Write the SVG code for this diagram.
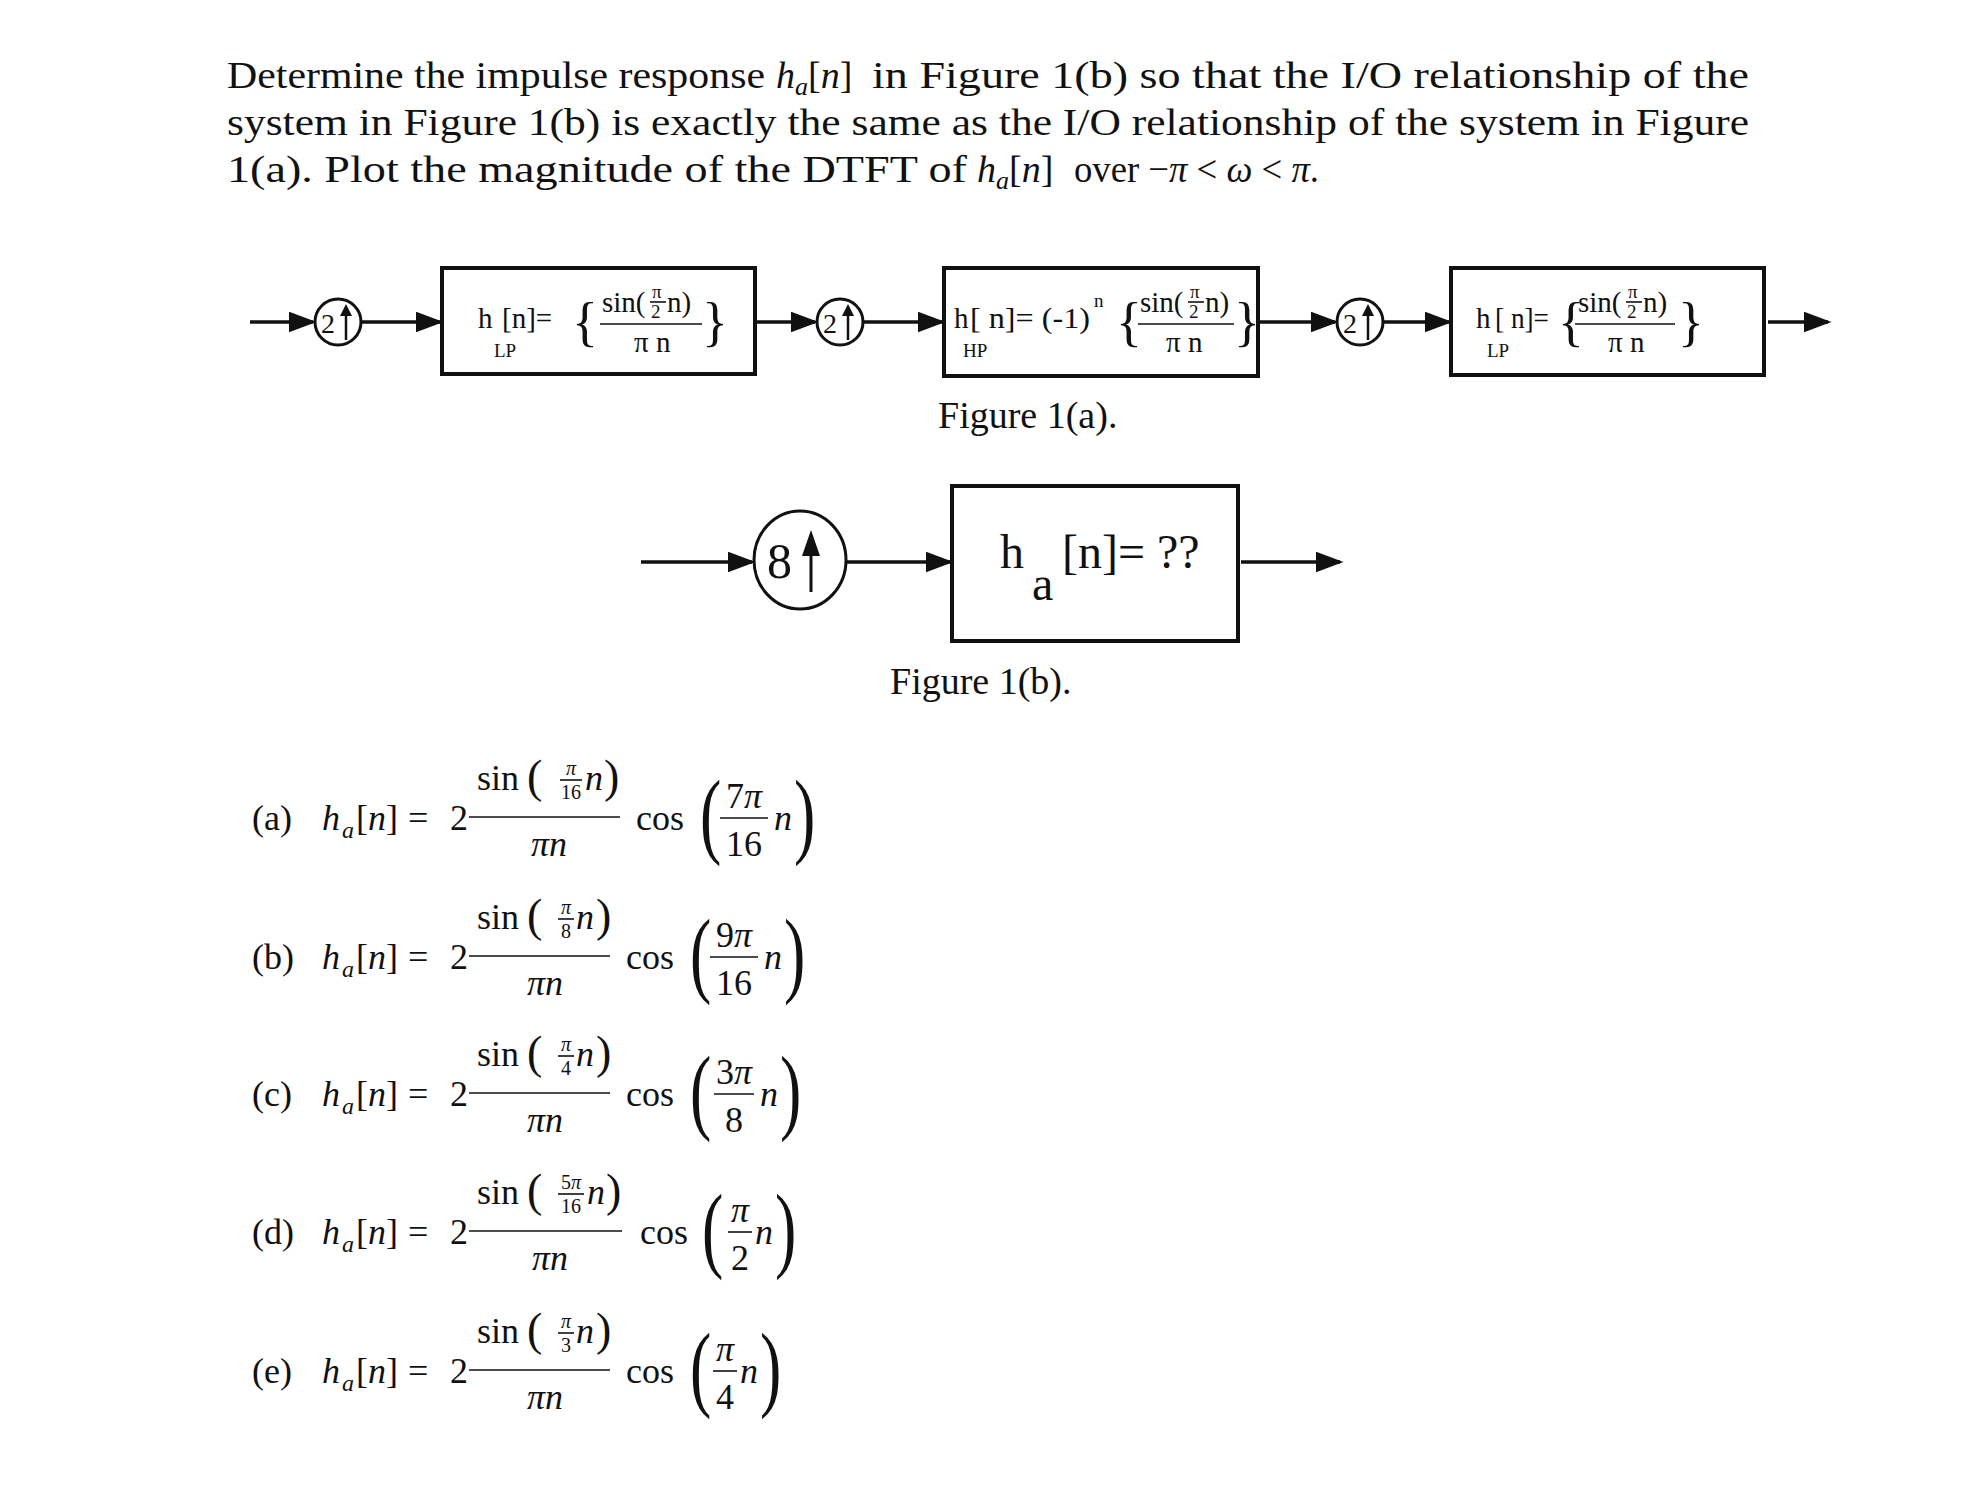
<svg xmlns="http://www.w3.org/2000/svg" width="1969" height="1490" viewBox="0 0 1969 1490">
<style>
text{font-family:"Liberation Serif","Times New Roman",serif;fill:#111}
.t{font-size:38px}
.i{font-style:italic}
.m{font-size:36px}
.s{font-size:24px}
.x{font-size:20px}
.bx{fill:#fff;stroke:#111;stroke-width:4}
.c{fill:#fff;stroke:#111;stroke-width:3}
.ln{stroke:#111;stroke-width:3.5;fill:none}
.fb{stroke:#111;stroke-width:1.6}
.bt{font-size:29px}
.bs{font-size:19px}
.br{font-size:54px}
.bp{font-size:64px}
.sp{font-size:46px}
</style>
<defs>
<marker id="ah2" markerWidth="8" markerHeight="6" refX="7" refY="3" orient="auto" markerUnits="strokeWidth"><path d="M0,0 L8,3 L0,6 Z" fill="#111"/></marker>
</defs>

<g id="title" class="t">
<text x="227" y="88" textLength="538" lengthAdjust="spacingAndGlyphs">Determine the impulse response</text>
<text x="776" y="88"><tspan class="i">h</tspan><tspan class="i" font-size="26" dy="7">a</tspan><tspan dy="-7">[</tspan><tspan class="i">n</tspan>]</text>
<text x="872" y="88" textLength="877" lengthAdjust="spacingAndGlyphs">in Figure 1(b) so that the I/O relationship of the</text>
<text x="227" y="135" textLength="1522" lengthAdjust="spacingAndGlyphs">system in Figure 1(b) is exactly the same as the I/O relationship of the system in Figure</text>
<text x="227" y="182" textLength="740" lengthAdjust="spacingAndGlyphs">1(a). Plot the magnitude of the DTFT of</text>
<text x="977" y="182"><tspan class="i">h</tspan><tspan class="i" font-size="26" dy="7">a</tspan><tspan dy="-7">[</tspan><tspan class="i">n</tspan>]</text>
<text x="1074" y="182" textLength="245" lengthAdjust="spacingAndGlyphs">over −<tspan class="i">π</tspan> &lt; <tspan class="i">ω</tspan> &lt; <tspan class="i">π</tspan>.</text>
</g>

<g id="connectors">
<line class="ln" x1="250" y1="322" x2="313" y2="322" marker-end="url(#ah2)"/>
<line class="ln" x1="362" y1="322" x2="440" y2="322" marker-end="url(#ah2)"/>
<line class="ln" x1="757" y1="322" x2="815" y2="322" marker-end="url(#ah2)"/>
<line class="ln" x1="864" y1="322" x2="942" y2="322" marker-end="url(#ah2)"/>
<line class="ln" x1="1260" y1="322" x2="1335" y2="322" marker-end="url(#ah2)"/>
<line class="ln" x1="1384" y1="322" x2="1449" y2="322" marker-end="url(#ah2)"/>
<line class="ln" x1="1768" y1="322" x2="1828" y2="322" marker-end="url(#ah2)"/>
<line class="ln" x1="641" y1="562" x2="752" y2="562" marker-end="url(#ah2)"/>
<line class="ln" x1="847" y1="562" x2="950" y2="562" marker-end="url(#ah2)"/>
<line class="ln" x1="1241" y1="562" x2="1340" y2="562" marker-end="url(#ah2)"/>
</g>

<g id="up1"><circle class="c" cx="338" cy="322" r="23"/><text x="321" y="333" font-size="28">2</text><line x1="346" y1="340" x2="346" y2="314" stroke="#111" stroke-width="2.5"/><path d="M340,316 L346,304 L352,316 Z" fill="#111"/></g>
<g id="up2"><circle class="c" cx="840" cy="322" r="23"/><text x="823" y="333" font-size="28">2</text><line x1="848" y1="340" x2="848" y2="314" stroke="#111" stroke-width="2.5"/><path d="M842,316 L848,304 L854,316 Z" fill="#111"/></g>
<g id="up3"><circle class="c" cx="1360" cy="322" r="23"/><text x="1343" y="333" font-size="28">2</text><line x1="1368" y1="340" x2="1368" y2="314" stroke="#111" stroke-width="2.5"/><path d="M1362,316 L1368,304 L1374,316 Z" fill="#111"/></g>

<g id="lp1">
<rect class="bx" x="442" y="268" width="313" height="106"/>
<text x="478" y="328" class="bt">h</text><text x="494" y="357" class="bs">LP</text><text x="502" y="328" class="bt">[n]=</text>
<text x="572" y="340" class="br">{</text>
<text x="602" y="312" class="bt">sin(</text><text x="652" y="298" class="bs">π</text><line class="fb" x1="650" y1="302" x2="666" y2="302"/><text x="651" y="318" class="bs">2</text><text x="667" y="312" class="bt">n)</text>
<line class="fb" x1="600" y1="324" x2="702" y2="324"/>
<text x="634" y="352" class="bt">π n</text>
<text x="702" y="340" class="br">}</text>
</g>

<g id="hp">
<rect class="bx" x="944" y="268" width="314" height="108"/>
<text x="954" y="328" class="bt">h</text><text x="963" y="357" class="bs">HP</text><text x="970" y="328" class="bt" textLength="120" lengthAdjust="spacingAndGlyphs">[ n]= (-1)</text><text x="1094" y="307" class="bs">n</text>
<text x="1116" y="340" class="br">{</text>
<text x="1140" y="312" class="bt">sin(</text><text x="1190" y="298" class="bs">π</text><line class="fb" x1="1188" y1="302" x2="1204" y2="302"/><text x="1189" y="318" class="bs">2</text><text x="1205" y="312" class="bt">n)</text>
<line class="fb" x1="1138" y1="324" x2="1234" y2="324"/>
<text x="1166" y="352" class="bt">π n</text>
<text x="1234" y="340" class="br">}</text>
</g>

<g id="lp2">
<rect class="bx" x="1451" y="268" width="313" height="107"/>
<text x="1476" y="328" class="bt">h</text><text x="1487" y="357" class="bs">LP</text><text x="1495" y="328" class="bt" textLength="54" lengthAdjust="spacingAndGlyphs">[ n]=</text>
<text x="1558" y="340" class="br">{</text>
<text x="1578" y="312" class="bt">sin(</text><text x="1628" y="298" class="bs">π</text><line class="fb" x1="1626" y1="302" x2="1642" y2="302"/><text x="1627" y="318" class="bs">2</text><text x="1643" y="312" class="bt">n)</text>
<line class="fb" x1="1575" y1="324" x2="1675" y2="324"/>
<text x="1608" y="352" class="bt">π n</text>
<text x="1678" y="340" class="br">}</text>
</g>

<text x="938" y="428" class="t">Figure 1(a).</text>

<g id="up8"><ellipse class="c" cx="800" cy="560" rx="46" ry="49"/><text x="767" y="578" font-size="50">8</text><line x1="811" y1="592" x2="811" y2="552" stroke="#111" stroke-width="3"/><path d="M802,556 L811,530 L820,556 Z" fill="#111"/></g>

<g id="ha">
<rect class="bx" x="952" y="486" width="286" height="155"/>
<text x="1000" y="568" font-size="48">h</text><text x="1032" y="600" font-size="48">a</text><text x="1062" y="568" font-size="48">[n]= ??</text>
</g>

<text x="890" y="694" class="t">Figure 1(b).</text>

<g id="opt-a" transform="translate(0,830)">
<text x="252" y="0" class="m">(a)</text>
<text x="322" y="0" class="m i">h</text><text x="342" y="8" class="s i">a</text><text x="356" y="0" class="m">[<tspan class="i">n</tspan>]</text>
<text x="408" y="0" class="m">=</text><text x="450" y="0" class="m">2</text>
<text x="477" y="-40" class="m">sin</text><text x="527" y="-38" class="sp">(</text>
<text x="571" y="-55" class="x i" text-anchor="middle">π</text><line class="fb" x1="560" y1="-50" x2="582" y2="-50"/><text x="571" y="-31" class="x" text-anchor="middle">16</text>
<text x="585" y="-40" class="m i">n</text><text x="604" y="-38" class="sp">)</text>
<line class="fb" x1="469" y1="-13" x2="620" y2="-13"/>
<text x="549" y="26" class="m i" text-anchor="middle">πn</text>
<text x="636" y="0" class="m">cos</text>
<text transform="translate(700,16) scale(1,1.5)" class="bp">(</text>
<text x="744" y="-22" class="m" text-anchor="middle">7<tspan class="i">π</tspan></text><line class="fb" x1="720" y1="-12" x2="768" y2="-12"/><text x="744" y="26" class="m" text-anchor="middle">16</text>
<text x="774" y="0" class="m i">n</text><text transform="translate(794,16) scale(1,1.5)" class="bp">)</text>
</g>

<g id="opt-b" transform="translate(0,969)">
<text x="252" y="0" class="m">(b)</text>
<text x="322" y="0" class="m i">h</text><text x="342" y="8" class="s i">a</text><text x="356" y="0" class="m">[<tspan class="i">n</tspan>]</text>
<text x="408" y="0" class="m">=</text><text x="450" y="0" class="m">2</text>
<text x="477" y="-40" class="m">sin</text><text x="527" y="-38" class="sp">(</text>
<text x="566" y="-55" class="x i" text-anchor="middle">π</text><line class="fb" x1="558" y1="-50" x2="574" y2="-50"/><text x="566" y="-31" class="x" text-anchor="middle">8</text>
<text x="576" y="-40" class="m i">n</text><text x="596" y="-38" class="sp">)</text>
<line class="fb" x1="469" y1="-13" x2="610" y2="-13"/>
<text x="545" y="26" class="m i" text-anchor="middle">πn</text>
<text x="626" y="0" class="m">cos</text>
<text transform="translate(690,16) scale(1,1.5)" class="bp">(</text>
<text x="734" y="-22" class="m" text-anchor="middle">9<tspan class="i">π</tspan></text><line class="fb" x1="710" y1="-12" x2="758" y2="-12"/><text x="734" y="26" class="m" text-anchor="middle">16</text>
<text x="764" y="0" class="m i">n</text><text transform="translate(784,16) scale(1,1.5)" class="bp">)</text>
</g>

<g id="opt-c" transform="translate(0,1106)">
<text x="252" y="0" class="m">(c)</text>
<text x="322" y="0" class="m i">h</text><text x="342" y="8" class="s i">a</text><text x="356" y="0" class="m">[<tspan class="i">n</tspan>]</text>
<text x="408" y="0" class="m">=</text><text x="450" y="0" class="m">2</text>
<text x="477" y="-40" class="m">sin</text><text x="527" y="-38" class="sp">(</text>
<text x="566" y="-55" class="x i" text-anchor="middle">π</text><line class="fb" x1="558" y1="-50" x2="574" y2="-50"/><text x="566" y="-31" class="x" text-anchor="middle">4</text>
<text x="576" y="-40" class="m i">n</text><text x="596" y="-38" class="sp">)</text>
<line class="fb" x1="469" y1="-13" x2="610" y2="-13"/>
<text x="545" y="26" class="m i" text-anchor="middle">πn</text>
<text x="626" y="0" class="m">cos</text>
<text transform="translate(690,16) scale(1,1.5)" class="bp">(</text>
<text x="734" y="-22" class="m" text-anchor="middle">3<tspan class="i">π</tspan></text><line class="fb" x1="714" y1="-12" x2="754" y2="-12"/><text x="734" y="26" class="m" text-anchor="middle">8</text>
<text x="760" y="0" class="m i">n</text><text transform="translate(780,16) scale(1,1.5)" class="bp">)</text>
</g>

<g id="opt-d" transform="translate(0,1244)">
<text x="252" y="0" class="m">(d)</text>
<text x="322" y="0" class="m i">h</text><text x="342" y="8" class="s i">a</text><text x="356" y="0" class="m">[<tspan class="i">n</tspan>]</text>
<text x="408" y="0" class="m">=</text><text x="450" y="0" class="m">2</text>
<text x="477" y="-40" class="m">sin</text><text x="527" y="-38" class="sp">(</text>
<text x="571" y="-55" class="x" text-anchor="middle">5<tspan class="i">π</tspan></text><line class="fb" x1="558" y1="-50" x2="584" y2="-50"/><text x="571" y="-31" class="x" text-anchor="middle">16</text>
<text x="587" y="-40" class="m i">n</text><text x="606" y="-38" class="sp">)</text>
<line class="fb" x1="469" y1="-13" x2="622" y2="-13"/>
<text x="550" y="26" class="m i" text-anchor="middle">πn</text>
<text x="640" y="0" class="m">cos</text>
<text transform="translate(702,16) scale(1,1.5)" class="bp">(</text>
<text x="740" y="-22" class="m i" text-anchor="middle">π</text><line class="fb" x1="728" y1="-12" x2="752" y2="-12"/><text x="740" y="26" class="m" text-anchor="middle">2</text>
<text x="755" y="0" class="m i">n</text><text transform="translate(775,16) scale(1,1.5)" class="bp">)</text>
</g>

<g id="opt-e" transform="translate(0,1383)">
<text x="252" y="0" class="m">(e)</text>
<text x="322" y="0" class="m i">h</text><text x="342" y="8" class="s i">a</text><text x="356" y="0" class="m">[<tspan class="i">n</tspan>]</text>
<text x="408" y="0" class="m">=</text><text x="450" y="0" class="m">2</text>
<text x="477" y="-40" class="m">sin</text><text x="527" y="-38" class="sp">(</text>
<text x="566" y="-55" class="x i" text-anchor="middle">π</text><line class="fb" x1="558" y1="-50" x2="574" y2="-50"/><text x="566" y="-31" class="x" text-anchor="middle">3</text>
<text x="576" y="-40" class="m i">n</text><text x="596" y="-38" class="sp">)</text>
<line class="fb" x1="469" y1="-13" x2="610" y2="-13"/>
<text x="545" y="26" class="m i" text-anchor="middle">πn</text>
<text x="626" y="0" class="m">cos</text>
<text transform="translate(690,16) scale(1,1.5)" class="bp">(</text>
<text x="725" y="-22" class="m i" text-anchor="middle">π</text><line class="fb" x1="713" y1="-12" x2="737" y2="-12"/><text x="725" y="26" class="m" text-anchor="middle">4</text>
<text x="740" y="0" class="m i">n</text><text transform="translate(760,16) scale(1,1.5)" class="bp">)</text>
</g>
</svg>
